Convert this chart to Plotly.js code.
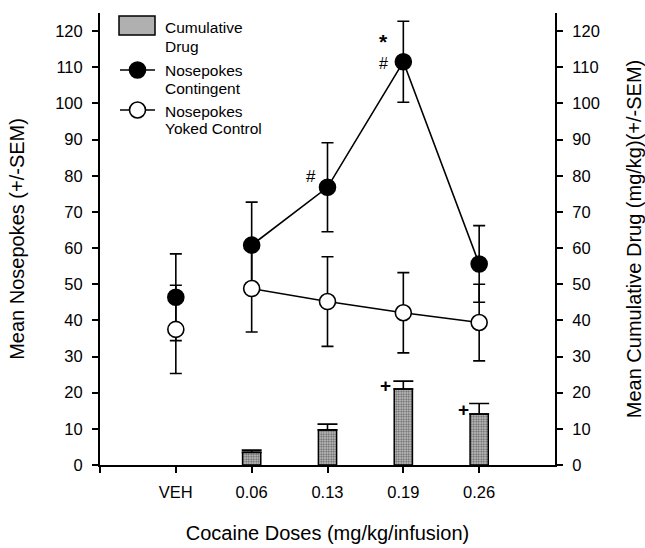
<!DOCTYPE html>
<html>
<head>
<meta charset="utf-8">
<script src="https://cdn.plot.ly/plotly-3.0.1.min.js"></script>
<style>
  html, body { margin: 0; padding: 0; background: #ffffff; }
  #chart { width: 645px; height: 548px; }
</style>
</head>
<body>
<div id="chart"></div>
<script>
// ---- Data ----
const categories = ['VEH', '0.06', '0.13', '0.19', '0.26'];
const contingent = [46.4, 60.8, 76.8, 111.5, 55.6];
const contingentSEM = [12.0, 11.9, 12.3, 11.2, 10.6];
const yoked = [37.5, 48.8, 45.2, 42.1, 39.4];
const yokedSEM = [12.2, 12.0, 12.4, 11.1, 10.6];
const cumulativeDrug = [0, 3.5, 9.7, 21.0, 14.1];
const cumulativeSEM = [null, 0.6, 1.6, 2.2, 2.9];
const yTickValues = [0, 10, 20, 30, 40, 50, 60, 70, 80, 90, 100, 110, 120];
const legendLabels = [['Cumulative', 'Drug'], ['Nosepokes', 'Contingent'], ['Nosepokes', 'Yoked Control']];
// significance marks: category index, y value, symbol, pixel offset, font size
const sigCats = [2, 3, 3, 3, 4];
const sigY = [79.7, 117.0, 111.05, 22.1, 15.4];
const sigText = ['#', '*', '#', '+', '+'];
const sigDx = [-17, -20, -20, -18, -16];
const sigSize = [17, 21, 16, 19, 19];

const FONT = 'Liberation Sans, Arial, Helvetica, sans-serif';
const xIdx = categories.map((_, i) => i);
const doseIdx = xIdx.slice(1);

const traces = [
  {
    type: 'bar', x: xIdx, y: cumulativeDrug.map(v => v > 0 ? v : null), xaxis: 'x', yaxis: 'y2', width: 0.24,
    marker: { color: '#b4b4b4', line: { color: '#000', width: 1.5 },
      pattern: { shape: '.', size: 2.5, solidity: 0.5, fgcolor: '#666', bgcolor: '#d0d0d0', fillmode: 'replace' } },
    error_y: { type: 'data', array: cumulativeSEM, arrayminus: cumulativeSEM.map(v => v === null ? null : 0),
      symmetric: false, color: '#000', thickness: 1.6, width: 10 },
    showlegend: false, hoverinfo: 'skip'
  },
  {
    type: 'scatter', mode: 'lines', x: doseIdx, y: contingent.slice(1),
    line: { color: '#000', width: 1.6 }, showlegend: false, hoverinfo: 'skip'
  },
  {
    type: 'scatter', mode: 'lines', x: doseIdx, y: yoked.slice(1),
    line: { color: '#000', width: 1.6 }, showlegend: false, hoverinfo: 'skip'
  },
  {
    type: 'scatter', mode: 'markers', x: xIdx, y: contingent,
    marker: { color: '#000', size: 16, line: { color: '#000', width: 1.6 } },
    error_y: { type: 'data', array: contingentSEM, color: '#000', thickness: 1.6, width: 6 },
    showlegend: false, hoverinfo: 'skip'
  },
  {
    type: 'scatter', mode: 'markers', x: xIdx, y: yoked,
    marker: { color: '#fff', size: 16, line: { color: '#000', width: 1.6 } },
    error_y: { type: 'data', array: yokedSEM, color: '#000', thickness: 1.6, width: 6 },
    showlegend: false, hoverinfo: 'skip'
  }
];

// plot area in px (for legend placement in paper coords)
const L = 100, R = 555, T = 13, B = 465;
const px = v => (v - L) / (R - L);
const py = v => (B - v) / (B - T);

const shapes = [
  { type: 'rect', xref: 'paper', yref: 'paper', x0: px(119), x1: px(155), y0: py(35), y1: py(16),
    fillcolor: '#b0b0b0', line: { color: '#000', width: 1.5 } },
  { type: 'line', xref: 'paper', yref: 'paper', x0: px(120), x1: px(155), y0: py(70), y1: py(70),
    line: { color: '#000', width: 1.6 } },
  { type: 'line', xref: 'paper', yref: 'paper', x0: px(120), x1: px(155), y0: py(110), y1: py(110),
    line: { color: '#000', width: 1.6 } },
  { type: 'circle', xref: 'paper', yref: 'paper', xsizemode: 'pixel', ysizemode: 'pixel',
    xanchor: px(137.5), yanchor: py(70), x0: -8, x1: 8, y0: -8, y1: 8,
    fillcolor: '#000', line: { color: '#000', width: 1.6 } },
  { type: 'circle', xref: 'paper', yref: 'paper', xsizemode: 'pixel', ysizemode: 'pixel',
    xanchor: px(137.5), yanchor: py(110), x0: -8, x1: 8, y0: -8, y1: 8,
    fillcolor: '#fff', line: { color: '#000', width: 1.6 } }
];

const legendLineY = [[27.5, 46.2], [70, 88.8], [111.3, 128.7]];
const annotations = [];
legendLabels.forEach((lines, i) => {
  lines.forEach((t, j) => {
    annotations.push({ xref: 'paper', yref: 'paper', x: px(163), y: py(legendLineY[i][j]),
      xanchor: 'left', yanchor: 'middle', text: t, showarrow: false,
      font: { family: FONT, size: 15.5, color: '#000' } });
  });
});
sigText.forEach((t, i) => {
  annotations.push({ xref: 'x', yref: 'y', x: sigCats[i], y: sigY[i], text: t, showarrow: false,
    xshift: sigDx[i], xanchor: 'center', yanchor: 'middle', borderpad: 0,
    font: { family: FONT, size: sigSize[i], color: '#000', weight: t === '#' ? 'normal' : 'bold' } });
});

const yAxisBase = {
  range: [0, 125], tickvals: yTickValues, showline: true, linecolor: '#000', linewidth: 2,
  ticks: 'outside', ticklen: 6, tickwidth: 2, tickcolor: '#000', showgrid: false, zeroline: false,
  tickfont: { family: FONT, size: 16.5, color: '#000' }, ticklabelstandoff: 6
};

const layout = {
  width: 645, height: 548,
  margin: { l: L, r: 645 - R, t: T, b: 548 - B },
  paper_bgcolor: '#fff', plot_bgcolor: '#fff',
  font: { family: FONT, color: '#000' },
  showlegend: false,
  xaxis: {
    range: [-1, 5], tickvals: [-1].concat(xIdx), ticktext: [''].concat(categories),
    showline: true, linecolor: '#000', linewidth: 2, ticks: 'outside', ticklen: 6, tickwidth: 2,
    tickcolor: '#000', showgrid: false, zeroline: false,
    tickfont: { family: FONT, size: 16.5, color: '#000' }, ticklabelstandoff: 5,
    title: { text: 'Cocaine Doses (mg/kg/infusion)', font: { family: FONT, size: 20, color: '#000' }, standoff: 26 }
  },
  yaxis: Object.assign({}, yAxisBase, {
    title: { text: 'Mean Nosepokes (+/-SEM)', font: { family: FONT, size: 20, color: '#000' }, standoff: 25 }
  }),
  yaxis2: Object.assign({}, yAxisBase, {
    overlaying: 'y', side: 'right',
    title: { text: 'Mean Cumulative Drug (mg/kg)(+/-SEM)', font: { family: FONT, size: 20, color: '#000' }, standoff: 28 }
  }),
  shapes: shapes,
  annotations: annotations
};

Plotly.newPlot('chart', traces, layout, { displayModeBar: false, staticPlot: true });
</script>
</body>
</html>
